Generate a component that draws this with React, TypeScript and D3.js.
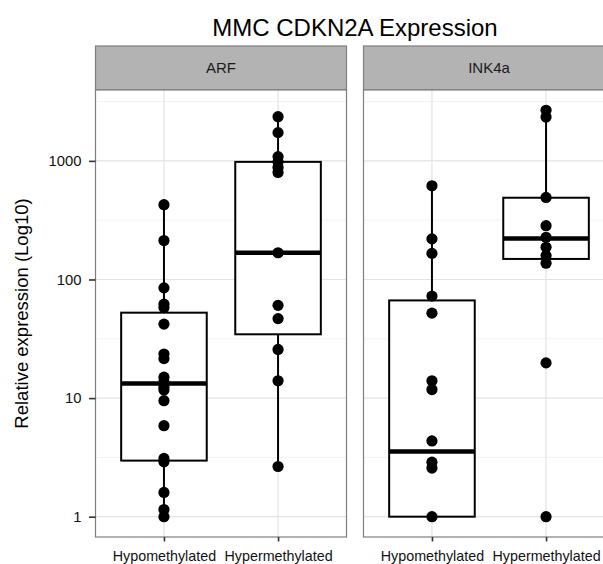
import { useEffect, useRef } from "react";
import * as d3 from "d3";

const facets = ["ARF", "INK4a"];
const groups = ["Hypomethylated", "Hypermethylated"];
const yTicks = [1, 10, 100, 1000];

// points per facet, per group
const arfHypo = [427, 213, 85, 62, 58, 42, 23.5, 21.5, 15, 13.7, 12.4, 11.7, 9.5, 5.85, 3.1, 2.9, 1.6, 1.15, 1.0];
const arfHyper = [2357, 1730, 1087, 981, 879, 798, 168, 60.5, 46.8, 25.7, 14, 2.65];
const ink4aHypo = [617, 220, 166, 72.4, 52, 14, 11.8, 4.35, 2.88, 2.57, 1.0];
const ink4aHyper = [2669, 2343, 492, 284, 227, 187, 159, 137, 19.8, 1.0];

// box stats, order: ARF-Hypo, ARF-Hyper, INK4a-Hypo, INK4a-Hyper
const whiskerLow = [1.0, 2.65, 1.0, 137];
const boxQ1 = [2.97, 34.5, 1.0, 149];
const boxMedian = [13.3, 168, 3.54, 222];
const boxQ3 = [52.5, 981, 66.6, 489];
const whiskerHigh = [427, 2357, 617, 2669];

const points = [
  [arfHypo, arfHyper],
  [ink4aHypo, ink4aHyper],
];

export default function App() {
  const ref = useRef<SVGSVGElement | null>(null);

  useEffect(() => {
    const width = 603;
    const height = 564;
    const panelTop = 90;
    const panelBottom = 537;
    const stripTop = 46;
    const panelLeft = 95.5;
    const panelWidth = 251;
    const panelGap = 17;
    const font = "Liberation Sans, Arial, sans-serif";

    const svg = d3.select(ref.current);
    svg.selectAll("*").remove();
    svg.attr("width", width).attr("height", height);

    svg.append("rect").attr("width", width).attr("height", height).attr("fill", "white");

    const all = points.flat(2);
    const lmin = Math.log10(d3.min(all) as number);
    const lmax = Math.log10(d3.max(all) as number);
    const pad = (lmax - lmin) * 0.05;
    const y = d3
      .scaleLog()
      .domain([Math.pow(10, lmin - pad), Math.pow(10, lmax + pad)])
      .range([panelBottom, panelTop]);

    const minorTicks = [0.5, 1.5, 2.5, 3.5].map((d) => Math.pow(10, d));

    svg
      .append("text")
      .attr("x", panelLeft + (panelWidth * 2 + panelGap) / 2)
      .attr("y", 36)
      .attr("text-anchor", "middle")
      .attr("font-family", font)
      .attr("font-size", 24)
      .attr("fill", "#000")
      .text("MMC CDKN2A Expression");

    facets.forEach((facet, fi) => {
      const left = panelLeft + fi * (panelWidth + panelGap);
      const right = left + panelWidth;
      const x = d3.scalePoint<string>().domain(groups).range([left, right]).padding(0.6);
      const step = x.step();
      const g = svg.append("g");

      // strip
      g.append("rect")
        .attr("x", left)
        .attr("y", stripTop)
        .attr("width", panelWidth)
        .attr("height", panelTop - stripTop)
        .attr("fill", "#b3b3b3")
        .attr("stroke", "#7f7f7f")
        .attr("stroke-width", 1.2);
      g.append("text")
        .attr("x", (left + right) / 2)
        .attr("y", (stripTop + panelTop) / 2 + 5.2)
        .attr("text-anchor", "middle")
        .attr("font-family", font)
        .attr("font-size", 15)
        .attr("fill", "#1a1a1a")
        .text(facet);

      // panel background
      g.append("rect")
        .attr("x", left)
        .attr("y", panelTop)
        .attr("width", panelWidth)
        .attr("height", panelBottom - panelTop)
        .attr("fill", "white");

      g.selectAll(".minor")
        .data(minorTicks)
        .join("line")
        .attr("x1", left)
        .attr("x2", right)
        .attr("y1", (d) => y(d))
        .attr("y2", (d) => y(d))
        .attr("stroke", "#f2f2f2")
        .attr("stroke-width", 1);
      g.selectAll(".major")
        .data(yTicks)
        .join("line")
        .attr("x1", left)
        .attr("x2", right)
        .attr("y1", (d) => y(d))
        .attr("y2", (d) => y(d))
        .attr("stroke", "#e3e3e3")
        .attr("stroke-width", 1.2);
      g.selectAll(".vmajor")
        .data(groups)
        .join("line")
        .attr("x1", (d) => x(d) as number)
        .attr("x2", (d) => x(d) as number)
        .attr("y1", panelTop)
        .attr("y2", panelBottom)
        .attr("stroke", "#e3e3e3")
        .attr("stroke-width", 1.2);

      groups.forEach((grp, gi) => {
        const k = fi * 2 + gi;
        const cx = x(grp) as number;
        const bw = step * 0.75;
        g.append("line")
          .attr("x1", cx)
          .attr("x2", cx)
          .attr("y1", y(whiskerHigh[k]))
          .attr("y2", y(boxQ3[k]))
          .attr("stroke", "#000")
          .attr("stroke-width", 2);
        g.append("line")
          .attr("x1", cx)
          .attr("x2", cx)
          .attr("y1", y(boxQ1[k]))
          .attr("y2", y(whiskerLow[k]))
          .attr("stroke", "#000")
          .attr("stroke-width", 2);
        g.append("rect")
          .attr("x", cx - bw / 2)
          .attr("y", y(boxQ3[k]))
          .attr("width", bw)
          .attr("height", y(boxQ1[k]) - y(boxQ3[k]))
          .attr("fill", "white")
          .attr("stroke", "#000")
          .attr("stroke-width", 2);
        g.append("line")
          .attr("x1", cx - bw / 2)
          .attr("x2", cx + bw / 2)
          .attr("y1", y(boxMedian[k]))
          .attr("y2", y(boxMedian[k]))
          .attr("stroke", "#000")
          .attr("stroke-width", 4.5);

        g.selectAll(null)
          .data(points[fi][gi])
          .join("circle")
          .attr("cx", cx)
          .attr("cy", (d) => y(d))
          .attr("r", 5.6)
          .attr("fill", "#000");
      });

      // panel border
      g.append("rect")
        .attr("x", left)
        .attr("y", panelTop)
        .attr("width", panelWidth)
        .attr("height", panelBottom - panelTop)
        .attr("fill", "none")
        .attr("stroke", "#7f7f7f")
        .attr("stroke-width", 1.2);

      // x axis
      const xa = g
        .append("g")
        .attr("transform", `translate(0,${panelBottom})`)
        .call(d3.axisBottom(x).tickSize(4.5).tickPadding(9));
      xa.select(".domain").remove();
      xa.selectAll(".tick line").attr("stroke", "#333").attr("stroke-width", 1.6);
      xa.selectAll(".tick text")
        .attr("font-family", font)
        .attr("font-size", 14.3)
        .attr("fill", "#111");

      if (fi === 0) {
        const ya = g
          .append("g")
          .attr("transform", `translate(${left},0)`)
          .call(
            d3
              .axisLeft(y)
              .tickValues(yTicks)
              .tickFormat((d) => d3.format("d")(d as number))
              .tickSize(6.5)
              .tickPadding(7.5)
          );
        ya.select(".domain").remove();
        ya.selectAll(".tick line").attr("stroke", "#333").attr("stroke-width", 1.6);
        ya.selectAll(".tick text")
          .attr("font-family", font)
          .attr("font-size", 14.8)
          .attr("fill", "#111");
      }
    });

    svg
      .append("text")
      .attr("transform", `translate(28,${(panelTop + panelBottom) / 2}) rotate(-90)`)
      .attr("text-anchor", "middle")
      .attr("font-family", font)
      .attr("font-size", 18.5)
      .attr("fill", "#000")
      .text("Relative expression (Log10)");
  }, []);

  return (
    <svg
      ref={ref}
      style={{ position: "absolute", left: 0, top: 0, overflow: "hidden" }}
    />
  );
}
